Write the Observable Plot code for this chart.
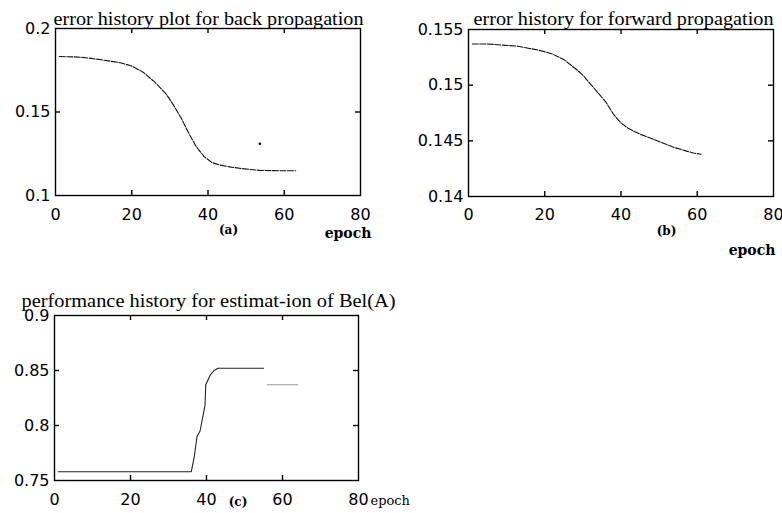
<!DOCTYPE html>
<html>
<head>
<meta charset="utf-8">
<script src="https://cdn.jsdelivr.net/npm/d3@7"></script>
<script src="https://cdn.jsdelivr.net/npm/@observablehq/plot@0.6"></script>
<style>
  html, body { margin: 0; padding: 0; background: #fff; }
  #chart { position: relative; width: 782px; height: 513px; background: #fff; overflow: hidden; }
  #chart svg { position: absolute; }
</style>
</head>
<body>
<div id="chart"></div>
<script>
// ---- Data ----
const xTicks = [0, 20, 40, 60, 80];
const xTickLabels = ["0", "20", "40", "60", "80"];

// (a) error history plot for back propagation
const epochA = [1, 5, 8, 12, 17, 20, 23, 26, 29, 31, 33, 35, 37, 39, 41, 43, 46, 49, 51, 54, 57, 60, 63];
const errorA = [0.1832, 0.1830, 0.1825, 0.1813, 0.1795, 0.1776, 0.1738, 0.1680, 0.1608, 0.1540, 0.1462, 0.1371, 0.1290, 0.1233, 0.1198, 0.1183, 0.1170, 0.1161, 0.1156, 0.1150, 0.1149, 0.1148, 0.1148];
const strayEpochA = [53.6];
const strayErrorA = [0.131];
const yTicksA = [0.1, 0.15, 0.2];
const yTickLabelsA = ["0.1", "0.15", "0.2"];

// (b) error history for forward propagation
const epochB = [1, 5, 9, 13, 16, 19, 22, 25, 28, 30, 32, 34, 36, 38, 40, 42, 45, 48, 51, 54, 57, 59, 61];
const errorB = [0.1537, 0.1537, 0.1536, 0.1535, 0.1533, 0.1531, 0.1528, 0.1523, 0.1515, 0.1509, 0.1501, 0.1493, 0.1485, 0.1474, 0.1466, 0.1461, 0.1456, 0.1452, 0.1448, 0.1444, 0.1441, 0.1439, 0.1438];
const yTicksB = [0.14, 0.145, 0.15, 0.155];
const yTickLabelsB = ["0.14", "0.145", "0.15", "0.155"];

// (c) performance history for estimation of Bel(A)
const epochC = [1, 36, 36.8, 37.5, 38.3, 39.6, 39.8, 41, 42, 43, 55];
const perfC = [0.758, 0.758, 0.772, 0.790, 0.795, 0.818, 0.837, 0.846, 0.850, 0.852, 0.852];
const epochC2 = [56, 64];
const perfC2 = [0.837, 0.837];
const yTicksC = [0.75, 0.8, 0.85, 0.9];
const yTickLabelsC = ["0.75", "0.8", "0.85", "0.9"];

const titles = [
  "error history plot for back propagation",
  "error history for forward propagation",
  "performance history for estimat-ion of Bel(A)"
];
const panelLabels = ["(a)", "(b)", "(c)"];
const xLabel = "epoch";

// ---- Drawing ----
const TICK_FONT = "DejaVu Sans";
const TITLE_FONT = "Liberation Serif";
const LABEL_FONT = "DejaVu Serif";

function panel(cfg) {
  const fh = cfg.height - cfg.mt - cfg.mb; // frame height
  const fw = cfg.width - cfg.ml - cfg.mr;  // frame width
  const tl = 5; // inward tick length
  const inner = xTicks.slice(1, -1);
  const innerY = cfg.yTicks.slice(1, -1);
  const marks = [
    Plot.frame({stroke: "#000", strokeWidth: 1.4}),
    // inward ticks bottom/top
    Plot.tickX(inner, {x: d => d, insetTop: fh - tl, stroke: "#000", strokeWidth: 1.4}),
    Plot.tickX(inner, {x: d => d, insetBottom: fh - tl, stroke: "#000", strokeWidth: 1.4}),
    // inward ticks left/right
    Plot.tickY(innerY, {y: d => d, insetRight: fw - tl, stroke: "#000", strokeWidth: 1.4}),
    Plot.tickY(innerY, {y: d => d, insetLeft: fw - tl, stroke: "#000", strokeWidth: 1.4}),
    Plot.axisX(xTicks, {anchor: "bottom", label: null, tickSize: 0, tickPadding: cfg.xPad, fontSize: 16,
      fontFamily: TICK_FONT, tickFormat: (d, i) => xTickLabels[i], fill: "#000"}),
    Plot.axisY(cfg.yTicks, {anchor: "left", label: null, tickSize: 0, tickPadding: 5, fontSize: 16,
      fontFamily: TICK_FONT, tickFormat: (d, i) => cfg.yLabels[i], fill: "#000"}),
    ...cfg.series,
    Plot.text([cfg.title], {text: d => d, frameAnchor: "top-left", textAnchor: "start", lineAnchor: "bottom",
      dx: cfg.titleDx, dy: cfg.titleDy, fontSize: cfg.titleSize, fontFamily: TITLE_FONT, fill: "#000"}),
    Plot.text([cfg.label], {text: d => d, frameAnchor: "bottom", textAnchor: "middle", lineAnchor: "bottom",
      dx: cfg.labelDx, dy: cfg.labelDy, fontSize: 12, fontWeight: "bold", fontFamily: LABEL_FONT, fill: "#000"}),
    Plot.text([xLabel], {text: d => d, frameAnchor: "bottom-right", textAnchor: cfg.epochAnchor, lineAnchor: "bottom",
      dx: cfg.epochDx, dy: cfg.epochDy, fontSize: cfg.epochSize, fontWeight: cfg.epochWeight, fontFamily: LABEL_FONT, fill: "#000"})
  ];
  const svg = Plot.plot({
    width: cfg.width, height: cfg.height,
    marginLeft: cfg.ml, marginRight: cfg.mr, marginTop: cfg.mt, marginBottom: cfg.mb,
    x: {domain: [0, 80], label: null},
    y: {domain: cfg.yDomain, label: null},
    style: {background: "transparent", color: "#000", overflow: "visible"},
    marks
  });
  svg.style.left = cfg.left + "px";
  svg.style.top = cfg.top + "px";
  // fit title width to the reference
  d3.select(svg).selectAll("text").filter(function() { return this.textContent === cfg.title; })
    .attr("textLength", cfg.titleWidth).attr("lengthAdjust", "spacingAndGlyphs");
  return svg;
}

const chart = document.getElementById("chart");

chart.appendChild(panel({
  left: 0, top: 0, width: 400, height: 260, ml: 55, mr: 40, mt: 28, mb: 65,
  yDomain: [0.1, 0.2], yTicks: yTicksA, yLabels: yTickLabelsA, xPad: 13,
  series: [
    Plot.line(epochA.map((e, i) => ({e, v: errorA[i]})), {x: "e", y: "v", stroke: "#111", strokeWidth: 1.1, strokeDasharray: "6,1.5"}),
    Plot.dot(strayEpochA.map((e, i) => ({e, v: strayErrorA[i]})), {x: "e", y: "v", r: 1.3, fill: "#000", stroke: null})
  ],
  title: titles[0], titleDx: -2, titleDy: -4, titleSize: 18, titleWidth: 310,
  label: panelLabels[0], labelDx: 20.5, labelDy: 38,
  epochAnchor: "middle", epochDx: -12.5, epochDy: 42, epochSize: 14, epochWeight: "bold"
}));

chart.appendChild(panel({
  left: 400, top: 0, width: 382, height: 260, ml: 68, mr: 9, mt: 29, mb: 64,
  yDomain: [0.14, 0.155], yTicks: yTicksB, yLabels: yTickLabelsB, xPad: 12,
  series: [
    Plot.line(epochB.map((e, i) => ({e, v: errorB[i]})), {x: "e", y: "v", stroke: "#111", strokeWidth: 1.1, strokeDasharray: "6,1.5"})
  ],
  title: titles[1], titleDx: 5, titleDy: -5, titleSize: 18, titleWidth: 300,
  label: panelLabels[1], labelDx: 45.5, labelDy: 38,
  epochAnchor: "middle", epochDx: -21.5, epochDy: 58, epochSize: 14, epochWeight: "bold"
}));

chart.appendChild(panel({
  left: 0, top: 260, width: 440, height: 253, ml: 54, mr: 82, mt: 55, mb: 33,
  yDomain: [0.75, 0.9], yTicks: yTicksC, yLabels: yTickLabelsC, xPad: 13,
  series: [
    Plot.line(epochC.map((e, i) => ({e, v: perfC[i]})), {x: "e", y: "v", stroke: "#222", strokeWidth: 1.1}),
    Plot.line(epochC2.map((e, i) => ({e, v: perfC2[i]})), {x: "e", y: "v", stroke: "#999", strokeWidth: 1.1})
  ],
  title: titles[2], titleDx: -33, titleDy: -9, titleSize: 18, titleWidth: 374,
  label: panelLabels[2], labelDx: 31.5, labelDy: 25,
  epochAnchor: "start", epochDx: 12, epochDy: 24, epochSize: 13, epochWeight: "normal"
}));
</script>
</body>
</html>
